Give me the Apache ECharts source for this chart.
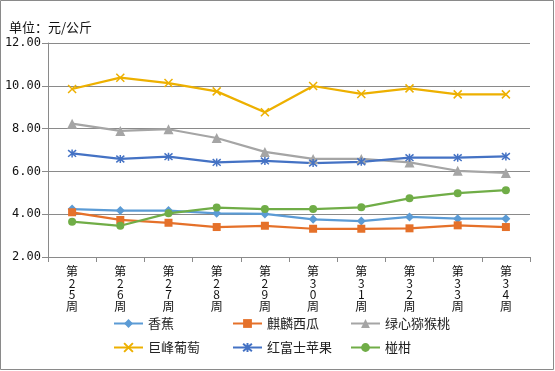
<!DOCTYPE html>
<html>
<head>
<meta charset="utf-8">
<script src="https://cdn.jsdelivr.net/npm/echarts@6/dist/echarts.min.js"></script>
<style>
html,body{margin:0;padding:0;background:#fff;}
#c{width:555px;height:371px;}
</style>
</head>
<body>
<div id="c"></div>
<script>
var categories = ['第25周','第26周','第27周','第28周','第29周','第30周','第31周','第32周','第33周','第34周'];
var yTicks = [2, 4, 6, 8, 10, 12];
var banana = [4.24, 4.17, 4.17, 4.04, 4.01, 3.76, 3.68, 3.87, 3.79, 3.79];
var watermelon = [4.09, 3.73, 3.60, 3.40, 3.46, 3.32, 3.32, 3.34, 3.48, 3.40];
var kiwi = [8.23, 7.89, 7.97, 7.56, 6.91, 6.58, 6.58, 6.42, 6.03, 5.93];
var grape = [9.85, 10.38, 10.13, 9.74, 8.76, 9.99, 9.62, 9.88, 9.60, 9.60];
var apple = [6.84, 6.58, 6.69, 6.42, 6.49, 6.39, 6.45, 6.64, 6.64, 6.70];
var orange = [3.65, 3.46, 4.04, 4.31, 4.24, 4.24, 4.32, 4.74, 4.98, 5.12];
var seriesNames = ['香蕉','麒麟西瓜','绿心猕猴桃','巨峰葡萄','红富士苹果','椪柑'];

var cjk = '"Noto Sans CJK SC", "DejaVu Sans", sans-serif';
var chart = echarts.init(document.getElementById('c'));

function mk(name, data, color, symbol, size, extra) {
  var s = {
    name: name, type: 'line', data: data,
    symbol: symbol, symbolSize: size,
    lineStyle: {color: color, width: 2.25},
    itemStyle: {color: color, borderColor: color, borderWidth: 0},
    emphasis: {disabled: true},
    animation: false
  };
  if (extra) { s.itemStyle.borderWidth = 1.5; }
  return s;
}

var legendLefts = [113, 232, 350];
var legendTops = [317, 341];
var legends = seriesNames.map(function (n, i) {
  return {
    data: [n], left: legendLefts[i % 3], top: legendTops[Math.floor(i / 3)],
    padding: 0, itemWidth: 29, itemHeight: 11, itemGap: 0,
    textStyle: {fontFamily: cjk, fontSize: 13, color: '#222'},
    selectedMode: false
  };
});

chart.setOption({
  animation: false,
  graphic: [{
    type: 'rect', silent: true,
    shape: {x: 0.5, y: 0.5, width: 553, height: 369},
    style: {fill: 'none', stroke: '#8a8a8a', lineWidth: 1}
  }],
  title: {
    text: '单位：元/公斤', left: 4, top: 16,
    textStyle: {fontFamily: cjk, fontSize: 13, fontWeight: 'normal', color: '#111'}
  },
  grid: {left: 48, right: 25, top: 43, bottom: 114, containLabel: false},
  legend: legends,
  xAxis: {
    type: 'category', data: categories, boundaryGap: true,
    axisLine: {lineStyle: {color: '#8a8a8a', width: 1}},
    axisTick: {show: true, length: 5, lineStyle: {color: '#8a8a8a'}},
    axisLabel: {
      interval: 0, margin: 9, color: '#111', fontFamily: cjk, fontSize: 12, lineHeight: 11.5,
      formatter: function (v) { return v.split('').join('\n'); }
    },
    splitLine: {show: false}
  },
  yAxis: {
    type: 'value', min: yTicks[0], max: yTicks[yTicks.length - 1], interval: 2,
    axisLine: {show: true, lineStyle: {color: '#8a8a8a', width: 1}},
    axisTick: {show: true, length: 6, lineStyle: {color: '#8a8a8a'}},
    axisLabel: {
      margin: 7, color: '#111', fontFamily: '"DejaVu Sans Mono", monospace', fontSize: 12,
      formatter: function (v) { return v.toFixed(2); }
    },
    splitLine: {lineStyle: {color: '#8a8a8a', width: 1}}
  },
  series: [
    mk('香蕉', banana, '#5B9BD5', 'diamond', 9),
    mk('麒麟西瓜', watermelon, '#E5712A', 'rect', 8),
    mk('绿心猕猴桃', kiwi, '#A5A5A5', 'triangle', 10),
    mk('巨峰葡萄', grape, '#EDB000', 'path://M0,0L10,10M10,0L0,10', 8, true),
    mk('红富士苹果', apple, '#4472C4', 'path://M0,0L10,10M10,0L0,10M5,-1L5,11', 8, true),
    mk('椪柑', orange, '#70AD47', 'circle', 8)
  ]
});
</script>
</body>
</html>
